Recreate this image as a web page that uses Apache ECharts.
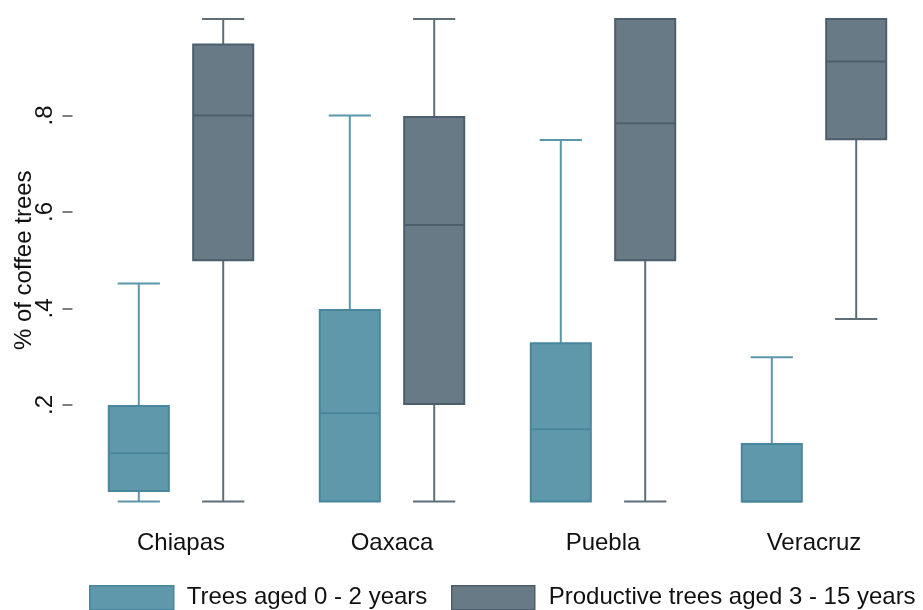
<!DOCTYPE html>
<html>
<head>
<meta charset="utf-8">
<script src="https://cdn.jsdelivr.net/npm/echarts@6/dist/echarts.min.js"></script>
<style>
  html, body { margin: 0; padding: 0; background: #fff; }
  #chart { width: 923px; height: 610px; }
</style>
</head>
<body>
<div id="chart"></div>
<script>
// box stats per state: [low whisker, q1, median, q3, high whisker]
const states = ['Chiapas', 'Oaxaca', 'Puebla', 'Veracruz'];
const youngTrees = [
  [0, 0.022, 0.100, 0.198, 0.452],
  [0, 0, 0.183, 0.397, 0.800],
  [0, 0, 0.150, 0.328, 0.749],
  [0, 0, 0, 0.119, 0.299]
];
const productiveTrees = [
  [0, 0.500, 0.800, 0.947, 1.0],
  [0, 0.202, 0.573, 0.797, 1.0],
  [0, 0.500, 0.784, 1.0, 1.0],
  [0.378, 0.751, 0.912, 1.0, 1.0]
];
const yTicks = [0.2, 0.4, 0.6, 0.8];
const seriesNames = ['Trees aged 0 - 2 years', 'Productive trees aged 3 - 15 years'];

const teal = { fill: '#5f98ab', border: '#48869c', whisker: '#5c96ab' };
const slate = { fill: '#687a86', border: '#4c5e6b', whisker: '#5e6e79' };

function boxRenderer(shift, col) {
  return function (params, api) {
    const i = api.value(0);
    const band = api.size([1, 0])[0];
    const pLow = api.coord([i, api.value(1)]);
    const pQ1 = api.coord([i, api.value(2)]);
    const pMed = api.coord([i, api.value(3)]);
    const pQ3 = api.coord([i, api.value(4)]);
    const pHigh = api.coord([i, api.value(5)]);
    const cx = pLow[0] + band * shift;
    const w = band * 0.294;
    const cap = band * 0.2;
    const kids = [];
    const line = (x1, y1, x2, y2, c) => ({
      type: 'line',
      shape: { x1: x1, y1: y1, x2: x2, y2: y2 },
      style: { stroke: c, lineWidth: 2 }
    });
    if (api.value(5) > api.value(4)) {
      kids.push(line(cx, pQ3[1], cx, pHigh[1], col.whisker));
      kids.push(line(cx - cap / 2, pHigh[1], cx + cap / 2, pHigh[1], col.whisker));
    }
    if (api.value(1) < api.value(2)) {
      kids.push(line(cx, pQ1[1], cx, pLow[1], col.whisker));
      kids.push(line(cx - cap / 2, pLow[1], cx + cap / 2, pLow[1], col.whisker));
    }
    kids.push({
      type: 'rect',
      shape: { x: cx - w / 2 + 1, y: pQ3[1], width: w - 2, height: pQ1[1] - pQ3[1] },
      style: { fill: col.fill, stroke: col.border, lineWidth: 2 }
    });
    kids.push(line(cx - w / 2 + 1, pMed[1], cx + w / 2 - 1, pMed[1], col.border));
    return { type: 'group', children: kids };
  };
}

const toRows = arr => arr.map((r, i) => [i].concat(r));

const chart = echarts.init(document.getElementById('chart'));
const option = {
  backgroundColor: '#fff',
  animation: false,
  textStyle: { fontFamily: 'Liberation Sans, Arial, sans-serif' },
  grid: { left: 75.5, right: 3.5, top: 19, bottom: 108.5, outerBoundsMode: 'none' },
  legend: [
    {
      data: [seriesNames[0]],
      left: 89, top: 585, padding: 0,
      icon: 'rect', itemWidth: 84, itemHeight: 24,
      itemStyle: { color: teal.fill, borderColor: teal.border, borderWidth: 1.5 },
      textStyle: { fontSize: 24, color: '#111', padding: [0, 0, 0, 8] },
      selectedMode: false
    },
    {
      data: [seriesNames[1]],
      left: 451, top: 585, padding: 0,
      icon: 'rect', itemWidth: 83, itemHeight: 24,
      itemStyle: { color: slate.fill, borderColor: slate.border, borderWidth: 1.5 },
      textStyle: { fontSize: 24, color: '#111', padding: [0, 0, 0, 9] },
      selectedMode: false
    }
  ],
  xAxis: {
    type: 'category',
    data: states,
    axisLine: { show: false },
    axisTick: { show: false },
    axisLabel: { fontSize: 24, color: '#111', margin: 30 },
    splitLine: { show: false }
  },
  yAxis: {
    type: 'value',
    min: 0, max: 1, interval: 0.2,
    offset: 3,
    name: '% of coffee trees',
    nameLocation: 'middle',
    nameGap: 36,
    nameMoveOverlap: false,
    nameTextStyle: { fontSize: 24, color: '#111' },
    axisLine: { show: false },
    axisTick: { show: true, length: 10, customValues: yTicks, lineStyle: { color: '#555', width: 1.5 } },
    axisLabel: {
      rotate: 90, fontSize: 24, color: '#111', margin: 15,
      customValues: yTicks,
      formatter: v => String(+v.toFixed(1)).replace(/^0/, '')
    },
    splitLine: { show: false }
  },
  series: [
    {
      name: seriesNames[0],
      type: 'custom',
      renderItem: boxRenderer(-0.2, teal),
      itemStyle: { color: teal.fill, borderColor: teal.border },
      encode: { x: 0, y: [1, 2, 3, 4, 5] },
      data: toRows(youngTrees)
    },
    {
      name: seriesNames[1],
      type: 'custom',
      renderItem: boxRenderer(0.2, slate),
      itemStyle: { color: slate.fill, borderColor: slate.border },
      encode: { x: 0, y: [1, 2, 3, 4, 5] },
      data: toRows(productiveTrees)
    }
  ]
};
chart.setOption(option);
</script>
</body>
</html>
